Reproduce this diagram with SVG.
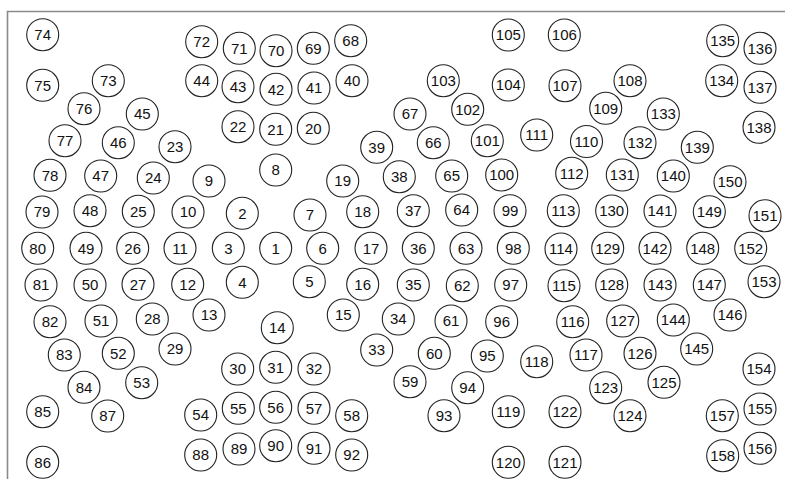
<svg xmlns="http://www.w3.org/2000/svg" width="785" height="479" viewBox="0 0 785 479">
<style>
.frame{stroke:#8a8a8a;stroke-width:1.6;fill:none}
.n circle{fill:#fff;stroke:#222;stroke-width:1.1}
.n text{font-family:"Liberation Sans",Arial,sans-serif;font-size:15px;text-anchor:middle;fill:#111}
</style>
<rect width="785" height="479" fill="#fff"/>
<path class="frame" d="M7.5,479 V11.5 H785"/>
<g id="connectors"/>
<g id="nodes">
<g id="n1" class="n" transform="translate(275.7,248.3)"><circle r="16"/><text dy="5.3">1</text></g>
<g id="n2" class="n" transform="translate(242.3,213.3)"><circle r="16"/><text dy="5.3">2</text></g>
<g id="n3" class="n" transform="translate(228.3,248.3)"><circle r="16"/><text dy="5.3">3</text></g>
<g id="n4" class="n" transform="translate(242.3,282.3)"><circle r="16"/><text dy="5.3">4</text></g>
<g id="n5" class="n" transform="translate(309.3,281.7)"><circle r="16"/><text dy="5.3">5</text></g>
<g id="n6" class="n" transform="translate(322.7,248.3)"><circle r="16"/><text dy="5.3">6</text></g>
<g id="n7" class="n" transform="translate(310,215)"><circle r="16"/><text dy="5.3">7</text></g>
<g id="n8" class="n" transform="translate(275.7,170)"><circle r="16"/><text dy="5.3">8</text></g>
<g id="n9" class="n" transform="translate(209,181)"><circle r="16"/><text dy="5.3">9</text></g>
<g id="n10" class="n" transform="translate(188,212)"><circle r="16"/><text dy="5.3">10</text></g>
<g id="n11" class="n" transform="translate(180,248.3)"><circle r="16"/><text dy="5.3">11</text></g>
<g id="n12" class="n" transform="translate(187.7,284.3)"><circle r="16"/><text dy="5.3">12</text></g>
<g id="n13" class="n" transform="translate(209,315)"><circle r="16"/><text dy="5.3">13</text></g>
<g id="n14" class="n" transform="translate(277.3,327.7)"><circle r="16"/><text dy="5.3">14</text></g>
<g id="n15" class="n" transform="translate(343.3,315)"><circle r="16"/><text dy="5.3">15</text></g>
<g id="n16" class="n" transform="translate(362.7,284.3)"><circle r="16"/><text dy="5.3">16</text></g>
<g id="n17" class="n" transform="translate(371,248.3)"><circle r="16"/><text dy="5.3">17</text></g>
<g id="n18" class="n" transform="translate(362.7,211.7)"><circle r="16"/><text dy="5.3">18</text></g>
<g id="n19" class="n" transform="translate(342.7,181)"><circle r="16"/><text dy="5.3">19</text></g>
<g id="n20" class="n" transform="translate(313.3,128.3)"><circle r="16"/><text dy="5.3">20</text></g>
<g id="n21" class="n" transform="translate(275.7,129.3)"><circle r="16"/><text dy="5.3">21</text></g>
<g id="n22" class="n" transform="translate(238,126.7)"><circle r="16"/><text dy="5.3">22</text></g>
<g id="n23" class="n" transform="translate(175,146.7)"><circle r="16"/><text dy="5.3">23</text></g>
<g id="n24" class="n" transform="translate(153.3,178)"><circle r="16"/><text dy="5.3">24</text></g>
<g id="n25" class="n" transform="translate(138.3,211.3)"><circle r="16"/><text dy="5.3">25</text></g>
<g id="n26" class="n" transform="translate(132.7,248.3)"><circle r="16"/><text dy="5.3">26</text></g>
<g id="n27" class="n" transform="translate(138,284.3)"><circle r="16"/><text dy="5.3">27</text></g>
<g id="n28" class="n" transform="translate(152.3,319)"><circle r="16"/><text dy="5.3">28</text></g>
<g id="n29" class="n" transform="translate(175,349)"><circle r="16"/><text dy="5.3">29</text></g>
<g id="n30" class="n" transform="translate(237.7,369)"><circle r="16"/><text dy="5.3">30</text></g>
<g id="n31" class="n" transform="translate(275.7,367.3)"><circle r="16"/><text dy="5.3">31</text></g>
<g id="n32" class="n" transform="translate(314,369)"><circle r="16"/><text dy="5.3">32</text></g>
<g id="n33" class="n" transform="translate(376.7,350)"><circle r="16"/><text dy="5.3">33</text></g>
<g id="n34" class="n" transform="translate(398.3,319)"><circle r="16"/><text dy="5.3">34</text></g>
<g id="n35" class="n" transform="translate(413.3,285)"><circle r="16"/><text dy="5.3">35</text></g>
<g id="n36" class="n" transform="translate(418.3,248.3)"><circle r="16"/><text dy="5.3">36</text></g>
<g id="n37" class="n" transform="translate(413.3,210.7)"><circle r="16"/><text dy="5.3">37</text></g>
<g id="n38" class="n" transform="translate(399.3,176.7)"><circle r="16"/><text dy="5.3">38</text></g>
<g id="n39" class="n" transform="translate(376.7,147.3)"><circle r="16"/><text dy="5.3">39</text></g>
<g id="n40" class="n" transform="translate(352,80.7)"><circle r="16"/><text dy="5.3">40</text></g>
<g id="n41" class="n" transform="translate(314,88)"><circle r="16"/><text dy="5.3">41</text></g>
<g id="n42" class="n" transform="translate(276,89.3)"><circle r="16"/><text dy="5.3">42</text></g>
<g id="n43" class="n" transform="translate(238,86.7)"><circle r="16"/><text dy="5.3">43</text></g>
<g id="n44" class="n" transform="translate(201.7,80.7)"><circle r="16"/><text dy="5.3">44</text></g>
<g id="n45" class="n" transform="translate(142.3,114)"><circle r="16"/><text dy="5.3">45</text></g>
<g id="n46" class="n" transform="translate(118.3,142.7)"><circle r="16"/><text dy="5.3">46</text></g>
<g id="n47" class="n" transform="translate(100.7,176)"><circle r="16"/><text dy="5.3">47</text></g>
<g id="n48" class="n" transform="translate(90,210.7)"><circle r="16"/><text dy="5.3">48</text></g>
<g id="n49" class="n" transform="translate(86,248.3)"><circle r="16"/><text dy="5.3">49</text></g>
<g id="n50" class="n" transform="translate(90,285)"><circle r="16"/><text dy="5.3">50</text></g>
<g id="n51" class="n" transform="translate(101,321)"><circle r="16"/><text dy="5.3">51</text></g>
<g id="n52" class="n" transform="translate(118.3,353.3)"><circle r="16"/><text dy="5.3">52</text></g>
<g id="n53" class="n" transform="translate(141.7,382.7)"><circle r="16"/><text dy="5.3">53</text></g>
<g id="n54" class="n" transform="translate(200.7,415)"><circle r="16"/><text dy="5.3">54</text></g>
<g id="n55" class="n" transform="translate(238.3,408.3)"><circle r="16"/><text dy="5.3">55</text></g>
<g id="n56" class="n" transform="translate(275.7,407.3)"><circle r="16"/><text dy="5.3">56</text></g>
<g id="n57" class="n" transform="translate(314,408.3)"><circle r="16"/><text dy="5.3">57</text></g>
<g id="n58" class="n" transform="translate(351.7,415.7)"><circle r="16"/><text dy="5.3">58</text></g>
<g id="n59" class="n" transform="translate(410,381.7)"><circle r="16"/><text dy="5.3">59</text></g>
<g id="n60" class="n" transform="translate(434.3,353.3)"><circle r="16"/><text dy="5.3">60</text></g>
<g id="n61" class="n" transform="translate(451,321)"><circle r="16"/><text dy="5.3">61</text></g>
<g id="n62" class="n" transform="translate(462.3,285.7)"><circle r="16"/><text dy="5.3">62</text></g>
<g id="n63" class="n" transform="translate(466,248.3)"><circle r="16"/><text dy="5.3">63</text></g>
<g id="n64" class="n" transform="translate(461.7,210)"><circle r="16"/><text dy="5.3">64</text></g>
<g id="n65" class="n" transform="translate(451.7,176)"><circle r="16"/><text dy="5.3">65</text></g>
<g id="n66" class="n" transform="translate(433.3,142.7)"><circle r="16"/><text dy="5.3">66</text></g>
<g id="n67" class="n" transform="translate(410,114)"><circle r="16"/><text dy="5.3">67</text></g>
<g id="n68" class="n" transform="translate(350.7,40.7)"><circle r="16"/><text dy="5.3">68</text></g>
<g id="n69" class="n" transform="translate(313.3,48.3)"><circle r="16"/><text dy="5.3">69</text></g>
<g id="n70" class="n" transform="translate(276,50.7)"><circle r="16"/><text dy="5.3">70</text></g>
<g id="n71" class="n" transform="translate(239.3,48.3)"><circle r="16"/><text dy="5.3">71</text></g>
<g id="n72" class="n" transform="translate(201.7,41.7)"><circle r="16"/><text dy="5.3">72</text></g>
<g id="n73" class="n" transform="translate(108.3,80.7)"><circle r="16"/><text dy="5.3">73</text></g>
<g id="n74" class="n" transform="translate(42.7,34.7)"><circle r="16"/><text dy="5.3">74</text></g>
<g id="n75" class="n" transform="translate(42.7,85.3)"><circle r="16"/><text dy="5.3">75</text></g>
<g id="n76" class="n" transform="translate(84,108.7)"><circle r="16"/><text dy="5.3">76</text></g>
<g id="n77" class="n" transform="translate(65,140.7)"><circle r="16"/><text dy="5.3">77</text></g>
<g id="n78" class="n" transform="translate(50,175.3)"><circle r="16"/><text dy="5.3">78</text></g>
<g id="n79" class="n" transform="translate(42,212)"><circle r="16"/><text dy="5.3">79</text></g>
<g id="n80" class="n" transform="translate(37.7,248.3)"><circle r="16"/><text dy="5.3">80</text></g>
<g id="n81" class="n" transform="translate(41,285)"><circle r="16"/><text dy="5.3">81</text></g>
<g id="n82" class="n" transform="translate(50,321.7)"><circle r="16"/><text dy="5.3">82</text></g>
<g id="n83" class="n" transform="translate(64.3,355)"><circle r="16"/><text dy="5.3">83</text></g>
<g id="n84" class="n" transform="translate(84,387.3)"><circle r="16"/><text dy="5.3">84</text></g>
<g id="n85" class="n" transform="translate(42.7,411.7)"><circle r="16"/><text dy="5.3">85</text></g>
<g id="n86" class="n" transform="translate(42.7,462.3)"><circle r="16"/><text dy="5.3">86</text></g>
<g id="n87" class="n" transform="translate(107.7,416)"><circle r="16"/><text dy="5.3">87</text></g>
<g id="n88" class="n" transform="translate(200.7,455)"><circle r="16"/><text dy="5.3">88</text></g>
<g id="n89" class="n" transform="translate(239,449)"><circle r="16"/><text dy="5.3">89</text></g>
<g id="n90" class="n" transform="translate(275.7,445.7)"><circle r="16"/><text dy="5.3">90</text></g>
<g id="n91" class="n" transform="translate(314,448.3)"><circle r="16"/><text dy="5.3">91</text></g>
<g id="n92" class="n" transform="translate(351.7,455)"><circle r="16"/><text dy="5.3">92</text></g>
<g id="n93" class="n" transform="translate(444,415.7)"><circle r="16"/><text dy="5.3">93</text></g>
<g id="n94" class="n" transform="translate(467.7,387.7)"><circle r="16"/><text dy="5.3">94</text></g>
<g id="n95" class="n" transform="translate(487.3,356)"><circle r="16"/><text dy="5.3">95</text></g>
<g id="n96" class="n" transform="translate(501.7,321.7)"><circle r="16"/><text dy="5.3">96</text></g>
<g id="n97" class="n" transform="translate(510.7,285)"><circle r="16"/><text dy="5.3">97</text></g>
<g id="n98" class="n" transform="translate(513.3,248.3)"><circle r="16"/><text dy="5.3">98</text></g>
<g id="n99" class="n" transform="translate(510,210.7)"><circle r="16"/><text dy="5.3">99</text></g>
<g id="n100" class="n" transform="translate(501.7,175)"><circle r="16"/><text dy="5.3">100</text></g>
<g id="n101" class="n" transform="translate(487.3,140.7)"><circle r="16"/><text dy="5.3">101</text></g>
<g id="n102" class="n" transform="translate(467.7,109.3)"><circle r="16"/><text dy="5.3">102</text></g>
<g id="n103" class="n" transform="translate(443.3,80.7)"><circle r="16"/><text dy="5.3">103</text></g>
<g id="n104" class="n" transform="translate(508.3,85)"><circle r="16"/><text dy="5.3">104</text></g>
<g id="n105" class="n" transform="translate(508.3,35)"><circle r="16"/><text dy="5.3">105</text></g>
<g id="n106" class="n" transform="translate(564.3,35)"><circle r="16"/><text dy="5.3">106</text></g>
<g id="n107" class="n" transform="translate(565,85.7)"><circle r="16"/><text dy="5.3">107</text></g>
<g id="n108" class="n" transform="translate(630,80.7)"><circle r="16"/><text dy="5.3">108</text></g>
<g id="n109" class="n" transform="translate(605.7,108.3)"><circle r="16"/><text dy="5.3">109</text></g>
<g id="n110" class="n" transform="translate(586.5,141.5)"><circle r="16"/><text dy="5.3">110</text></g>
<g id="n111" class="n" transform="translate(536.7,135)"><circle r="16"/><text dy="5.3">111</text></g>
<g id="n112" class="n" transform="translate(571.7,173.3)"><circle r="16"/><text dy="5.3">112</text></g>
<g id="n113" class="n" transform="translate(563.3,210.7)"><circle r="16"/><text dy="5.3">113</text></g>
<g id="n114" class="n" transform="translate(561,249)"><circle r="16"/><text dy="5.3">114</text></g>
<g id="n115" class="n" transform="translate(564,285.7)"><circle r="16"/><text dy="5.3">115</text></g>
<g id="n116" class="n" transform="translate(572.7,321.7)"><circle r="16"/><text dy="5.3">116</text></g>
<g id="n117" class="n" transform="translate(586,355)"><circle r="16"/><text dy="5.3">117</text></g>
<g id="n118" class="n" transform="translate(536.7,361.7)"><circle r="16"/><text dy="5.3">118</text></g>
<g id="n119" class="n" transform="translate(508.3,411.7)"><circle r="16"/><text dy="5.3">119</text></g>
<g id="n120" class="n" transform="translate(508.3,462.3)"><circle r="16"/><text dy="5.3">120</text></g>
<g id="n121" class="n" transform="translate(565,462.3)"><circle r="16"/><text dy="5.3">121</text></g>
<g id="n122" class="n" transform="translate(565,411.7)"><circle r="16"/><text dy="5.3">122</text></g>
<g id="n123" class="n" transform="translate(605.7,387.7)"><circle r="16"/><text dy="5.3">123</text></g>
<g id="n124" class="n" transform="translate(630,415.7)"><circle r="16"/><text dy="5.3">124</text></g>
<g id="n125" class="n" transform="translate(664,382.3)"><circle r="16"/><text dy="5.3">125</text></g>
<g id="n126" class="n" transform="translate(640,353.3)"><circle r="16"/><text dy="5.3">126</text></g>
<g id="n127" class="n" transform="translate(622.7,321)"><circle r="16"/><text dy="5.3">127</text></g>
<g id="n128" class="n" transform="translate(611.7,285)"><circle r="16"/><text dy="5.3">128</text></g>
<g id="n129" class="n" transform="translate(607.7,248.3)"><circle r="16"/><text dy="5.3">129</text></g>
<g id="n130" class="n" transform="translate(611.7,211)"><circle r="16"/><text dy="5.3">130</text></g>
<g id="n131" class="n" transform="translate(622.3,175)"><circle r="16"/><text dy="5.3">131</text></g>
<g id="n132" class="n" transform="translate(640,142.7)"><circle r="16"/><text dy="5.3">132</text></g>
<g id="n133" class="n" transform="translate(663.3,114)"><circle r="16"/><text dy="5.3">133</text></g>
<g id="n134" class="n" transform="translate(721.7,80.7)"><circle r="16"/><text dy="5.3">134</text></g>
<g id="n135" class="n" transform="translate(722.7,40.7)"><circle r="16"/><text dy="5.3">135</text></g>
<g id="n136" class="n" transform="translate(760,48.3)"><circle r="16"/><text dy="5.3">136</text></g>
<g id="n137" class="n" transform="translate(760,87.3)"><circle r="16"/><text dy="5.3">137</text></g>
<g id="n138" class="n" transform="translate(759,127.3)"><circle r="16"/><text dy="5.3">138</text></g>
<g id="n139" class="n" transform="translate(697.3,147.3)"><circle r="16"/><text dy="5.3">139</text></g>
<g id="n140" class="n" transform="translate(673.3,176)"><circle r="16"/><text dy="5.3">140</text></g>
<g id="n141" class="n" transform="translate(660,211)"><circle r="16"/><text dy="5.3">141</text></g>
<g id="n142" class="n" transform="translate(655,248.3)"><circle r="16"/><text dy="5.3">142</text></g>
<g id="n143" class="n" transform="translate(660,285)"><circle r="16"/><text dy="5.3">143</text></g>
<g id="n144" class="n" transform="translate(673.3,320)"><circle r="16"/><text dy="5.3">144</text></g>
<g id="n145" class="n" transform="translate(696.7,349)"><circle r="16"/><text dy="5.3">145</text></g>
<g id="n146" class="n" transform="translate(730,315)"><circle r="16"/><text dy="5.3">146</text></g>
<g id="n147" class="n" transform="translate(709.3,285)"><circle r="16"/><text dy="5.3">147</text></g>
<g id="n148" class="n" transform="translate(702.7,248.3)"><circle r="16"/><text dy="5.3">148</text></g>
<g id="n149" class="n" transform="translate(709.3,211.7)"><circle r="16"/><text dy="5.3">149</text></g>
<g id="n150" class="n" transform="translate(730,181.7)"><circle r="16"/><text dy="5.3">150</text></g>
<g id="n151" class="n" transform="translate(765,215.7)"><circle r="16"/><text dy="5.3">151</text></g>
<g id="n152" class="n" transform="translate(750.7,248.3)"><circle r="16"/><text dy="5.3">152</text></g>
<g id="n153" class="n" transform="translate(764,281.7)"><circle r="16"/><text dy="5.3">153</text></g>
<g id="n154" class="n" transform="translate(759,369)"><circle r="16"/><text dy="5.3">154</text></g>
<g id="n155" class="n" transform="translate(760,409)"><circle r="16"/><text dy="5.3">155</text></g>
<g id="n156" class="n" transform="translate(760,448.3)"><circle r="16"/><text dy="5.3">156</text></g>
<g id="n157" class="n" transform="translate(722.3,415.7)"><circle r="16"/><text dy="5.3">157</text></g>
<g id="n158" class="n" transform="translate(722.7,455.7)"><circle r="16"/><text dy="5.3">158</text></g>
</g>
</svg>
